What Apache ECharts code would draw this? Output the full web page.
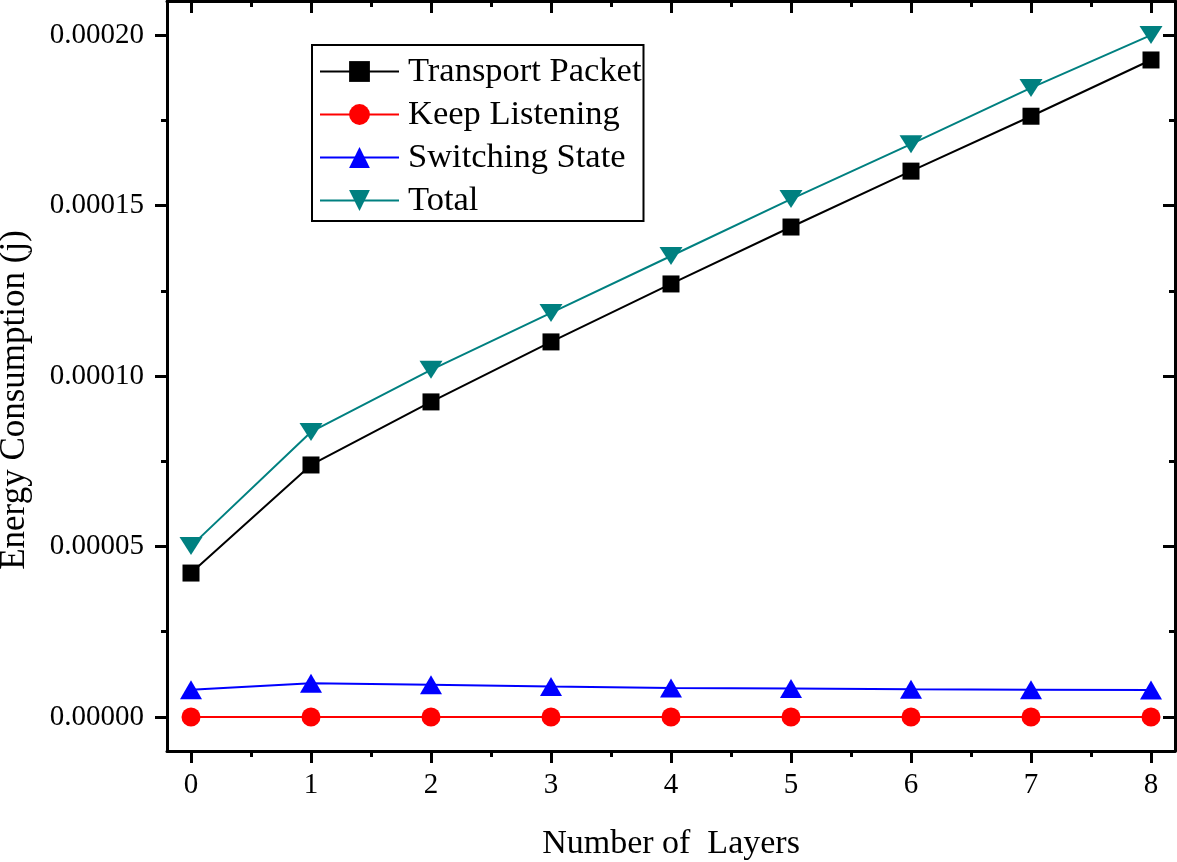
<!DOCTYPE html>
<html>
<head>
<meta charset="utf-8">
<script src="https://cdn.jsdelivr.net/npm/echarts@6/dist/echarts.min.js"></script>
<style>html,body{margin:0;padding:0;background:#fff;}#c{width:1177px;height:862px;}</style>
</head>
<body>
<div id="c"></div>
<script>
const layers = [0, 1, 2, 3, 4, 5, 6, 7, 8];
const transportPacket = [0.0000422, 0.0000739, 0.0000924, 0.0001100, 0.0001270, 0.0001437, 0.0001601, 0.0001762, 0.0001927];
const keepListening = [0, 0, 0, 0, 0, 0, 0, 0, 0];
const switchingState = [0.0000080, 0.0000099, 0.0000094, 0.0000089, 0.0000085, 0.0000083, 0.0000081, 0.0000080, 0.0000079];
const total = [0.0000501, 0.0000836, 0.0001018, 0.0001185, 0.0001352, 0.0001519, 0.0001680, 0.0001845, 0.0002000];
const xMajor = [0, 1, 2, 3, 4, 5, 6, 7, 8];
const xMinor = [0.5, 1.5, 2.5, 3.5, 4.5, 5.5, 6.5, 7.5];
const yMajor = [0, 0.00005, 0.0001, 0.00015, 0.0002];
const yMinor = [0.000025, 0.000075, 0.000125, 0.000175];

const FONT = 'Liberation Serif';
const pairs = arr => layers.map((x, i) => [x, arr[i]]);

function xAx(pos, ticks, len, inside, withLine, withLabel) {
  return {
    type: 'value', min: -0.2, max: 8.2, position: pos,
    axisLine: { show: withLine, onZero: false, lineStyle: { color: '#000', width: 3 } },
    axisTick: { show: true, customValues: ticks, length: len, inside: inside, lineStyle: { color: '#000', width: 3 } },
    axisLabel: withLabel ? { show: true, customValues: xMajor, fontFamily: FONT, fontSize: 29, color: '#000', margin: 20 } : { show: false },
    splitLine: { show: false }
  };
}
function yAx(pos, ticks, len, inside, withLine, withLabel) {
  return {
    type: 'value', min: -0.00001, max: 0.00021, position: pos,
    axisLine: { show: withLine, onZero: false, lineStyle: { color: '#000', width: 3 } },
    axisTick: { show: true, customValues: ticks, length: len, inside: inside, lineStyle: { color: '#000', width: 3 } },
    axisLabel: withLabel ? { show: true, customValues: yMajor, fontFamily: FONT, fontSize: 29, color: '#000', margin: 23,
      formatter: v => v.toFixed(5) } : { show: false },
    splitLine: { show: false }
  };
}

const chart = echarts.init(document.getElementById('c'), null, { renderer: 'canvas' });
chart.setOption({
  animation: false,
  backgroundColor: '#fff',
  grid: { left: 167, right: 2, top: 1, bottom: 111 },
  xAxis: [
    xAx('bottom', xMajor, 12, false, true, true),
    xAx('bottom', xMinor, 6, false, false, false),
    xAx('top', xMajor, 12, true, true, false),
    xAx('top', xMinor, 6, true, false, false)
  ],
  yAxis: [
    yAx('left', yMajor, 12, false, true, true),
    yAx('left', yMinor, 6, false, false, false),
    yAx('right', yMajor, 12, true, true, false),
    yAx('right', yMinor, 6, true, false, false)
  ],
  legend: {
    left: 312, top: 45, orient: 'vertical',
    borderColor: '#000', borderWidth: 2, borderRadius: 0,
    padding: [9, 2, 3, 7], itemGap: 8, itemWidth: 79, itemHeight: 26,
    textStyle: { fontFamily: FONT, fontSize: 34.5, color: '#000', lineHeight: 35, padding: [0, 0, 0, 4] },
    data: ['Transport Packet', 'Keep Listening', 'Switching State', 'Total']
  },
  graphic: [
    { type: 'text', x: 15, y: 400, rotation: Math.PI / 2,
      style: { text: 'Energy Consumption (j)', fontFamily: FONT, fontSize: 35, fill: '#000', align: 'center', verticalAlign: 'middle' } },
    { type: 'text', x: 671, y: 844,
      style: { text: 'Number of  Layers', fontFamily: FONT, fontSize: 34, fill: '#000', align: 'center', verticalAlign: 'middle' } }
  ],
  series: [
    { name: 'Transport Packet', type: 'line', data: pairs(transportPacket), color: '#000',
      symbol: 'rect', symbolSize: 17, lineStyle: { width: 2 }, itemStyle: { color: '#000' } },
    { name: 'Keep Listening', type: 'line', data: pairs(keepListening), color: '#ff0000',
      symbol: 'circle', symbolSize: 19, lineStyle: { width: 2 }, itemStyle: { color: '#ff0000' } },
    { name: 'Switching State', type: 'line', data: pairs(switchingState), color: '#0000ff',
      symbol: 'triangle', symbolSize: [22, 19], lineStyle: { width: 2 }, itemStyle: { color: '#0000ff' } },
    { name: 'Total', type: 'line', data: pairs(total), color: '#008080',
      symbol: 'triangle', symbolRotate: 180, symbolSize: [23, 18], lineStyle: { width: 2 }, itemStyle: { color: '#008080' } }
  ]
});
</script>
</body>
</html>
